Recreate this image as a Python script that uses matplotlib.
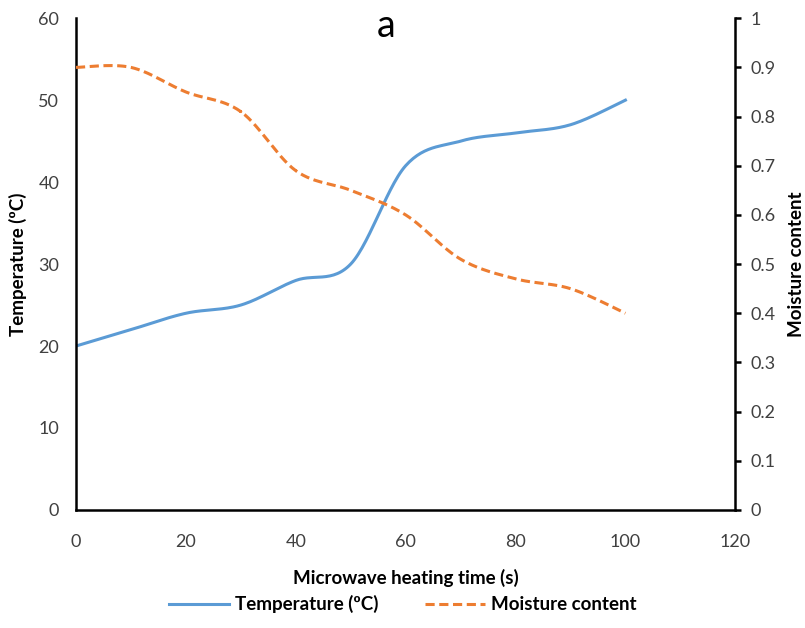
import numpy as np
import matplotlib
matplotlib.use("Agg")
import matplotlib.pyplot as plt

plt.rcParams['font.family'] = ['Lato', 'DejaVu Sans']

time_s = [0, 10, 20, 30, 40, 50, 60, 70, 80, 90, 100]
temperature = [20, 22, 24, 25, 28, 30, 42, 45, 46, 47, 50]
moisture = [0.90, 0.90, 0.85, 0.81, 0.69, 0.65, 0.60, 0.51, 0.47, 0.45, 0.40]


def smooth(x, y, n=30):
    # Excel-like smoothed line (Catmull-Rom through the points)
    x = np.asarray(x, float)
    y = np.asarray(y, float)
    px = np.concatenate([[x[0]], x, [x[-1]]])
    py = np.concatenate([[y[0]], y, [y[-1]]])
    xs, ys = [], []
    t = np.linspace(0, 1, n)
    for i in range(1, len(px) - 2):
        for p, out in ((px, xs), (py, ys)):
            p0, p1, p2, p3 = p[i - 1], p[i], p[i + 1], p[i + 2]
            out.extend(0.5 * ((2 * p1) + (-p0 + p2) * t
                              + (2 * p0 - 5 * p1 + 4 * p2 - p3) * t ** 2
                              + (-p0 + 3 * p1 - 3 * p2 + p3) * t ** 3))
    return xs, ys


fig = plt.figure(figsize=(8.05, 6.28), dpi=100)
ax = fig.add_axes([0.0944, 0.188, 0.819, 0.783])
ax2 = ax.twinx()

tx, ty = smooth(time_s, temperature)
mx, my = smooth(time_s, moisture)
l1, = ax.plot(tx, ty, color="#5B9BD5", lw=2.2, label="Temperature (ºC)")
l2, = ax2.plot(mx, my, color="#ED7D31", lw=2.2, ls=(0, (3, 1.5)),
               label="Moisture content")

ax.set_xlim(0, 120)
ax.set_ylim(0, 60)
ax2.set_ylim(0, 1)
ax.set_xticks(range(0, 121, 20))
ax.set_yticks(range(0, 61, 10))
ax2.set_yticks(np.round(np.arange(0, 1.01, 0.1), 1))
ax2.set_yticklabels(["0", "0.1", "0.2", "0.3", "0.4", "0.5", "0.6",
                     "0.7", "0.8", "0.9", "1"])

for a in (ax, ax2):
    a.spines["top"].set_visible(False)
ax.spines["right"].set_visible(False)
ax.spines["left"].set_linewidth(1.8)
ax.spines["bottom"].set_linewidth(1.8)
ax2.spines["left"].set_visible(False)
ax2.spines["bottom"].set_visible(False)
ax2.spines["right"].set_linewidth(1.8)

ax.tick_params(axis="x", length=0, labelsize=13, pad=17)
ax.tick_params(axis="y", length=0, labelsize=13, pad=12)
ax2.tick_params(axis="y", length=4, width=1.8, labelsize=13, pad=7)
for a in (ax, ax2):
    for lab in a.get_xticklabels() + a.get_yticklabels():
        lab.set_color("#404040")

ax.set_xlabel("Microwave heating time (s)", fontsize=13.5, fontweight="bold",
              labelpad=14)
ax.set_ylabel("Temperature (ºC)", fontsize=13.5, fontweight="bold", labelpad=8)
ax2.set_ylabel("Moisture content", fontsize=13.5, fontweight="bold", labelpad=9)
ax.set_title("a", fontsize=27, x=0.47, y=0.945)

fig.legend([l1, l2], [l1.get_label(), l2.get_label()], loc="center",
           bbox_to_anchor=(0.5, 0.038), ncol=2, frameon=False,
           prop={"weight": "bold", "size": 13.5}, handlelength=3.2,
           columnspacing=2.5, handletextpad=0.3)

fig.savefig("out.png", dpi=100)
